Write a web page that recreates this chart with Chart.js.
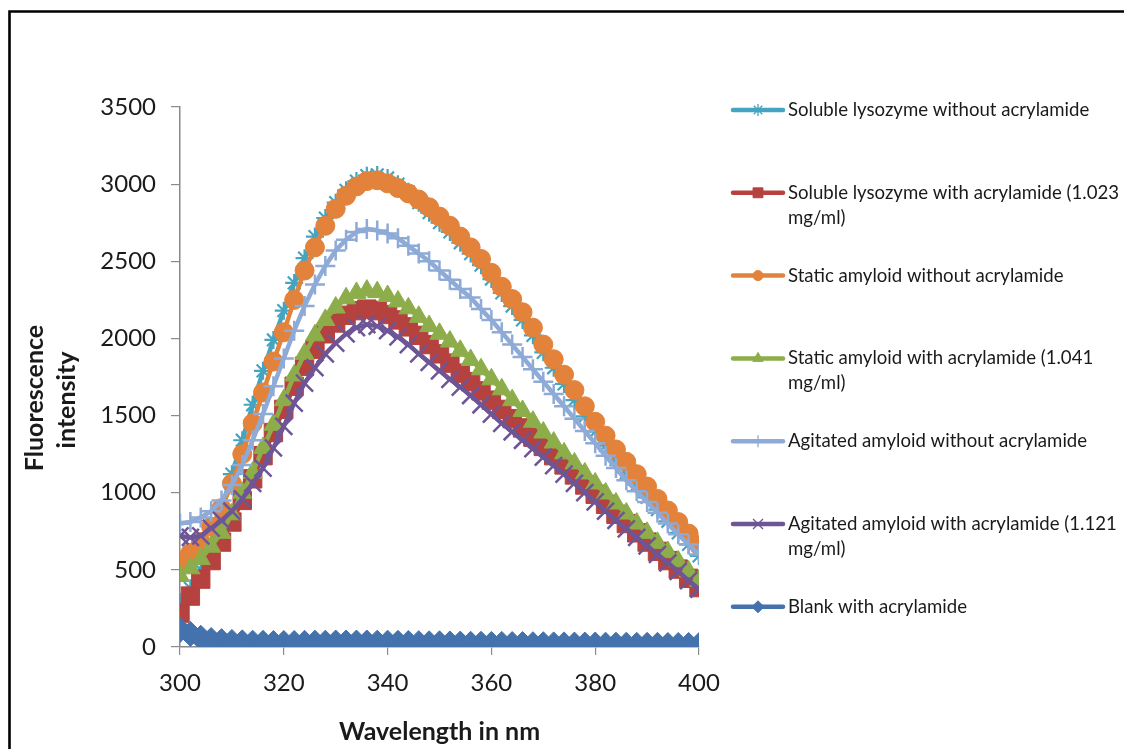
<!DOCTYPE html>
<html>
<head>
<meta charset="utf-8">
<script src="https://cdn.jsdelivr.net/npm/chart.js@4.4.1/dist/chart.umd.min.js"></script>
<style>
  html, body { margin: 0; padding: 0; background: #ffffff; }
  #wrap { width: 1124px; height: 749px; position: relative; }
</style>
</head>
<body>
<div id="wrap"><canvas id="c" width="1124" height="749"></canvas></div>
<script>
// Emission wavelength (nm), sampled every 2 nm
const wavelengths = [300,302,304,306,308,310,312,314,316,318,
                     320,322,324,326,328,330,332,334,336,338,
                     340,342,344,346,348,350,352,354,356,358,
                     360,362,364,366,368,370,372,374,376,378,
                     380,382,384,386,388,390,392,394,396,398,
                     400];

// Fluorescence intensity for each sample
const solubleNoAcrylamide = [290,380,500,680,900,1120,1340,1570,1790,1990,
                             2180,2360,2520,2660,2780,2880,2960,3020,3055,3060,
                             3040,3000,2950,2880,2815,2750,2690,2620,2550,2475,
                             2385,2295,2210,2120,2020,1910,1810,1705,1600,1495,
                             1395,1305,1215,1130,1050,970,890,815,740,665,
                             590];
const solubleAcrylamide = [220,330,440,560,680,810,950,1090,1240,1390,
                           1540,1690,1820,1930,2030,2100,2150,2180,2190,2180,
                           2155,2120,2075,2020,1960,1900,1840,1775,1720,1660,
                           1600,1540,1480,1420,1360,1300,1240,1180,1115,1050,
                           990,925,860,800,740,680,620,560,505,445,
                           385];
const staticNoAcrylamide = [560,610,680,780,900,1060,1250,1450,1650,1850,
                            2040,2250,2440,2590,2730,2840,2925,2985,3020,3025,
                            3005,2975,2940,2900,2850,2790,2730,2660,2590,2515,
                            2425,2335,2255,2170,2070,1960,1865,1765,1665,1560,
                            1460,1370,1280,1200,1120,1040,960,885,810,735,
                            660];
const staticAcrylamide = [460,510,570,650,740,860,1000,1130,1290,1440,
                          1600,1760,1900,2020,2120,2200,2260,2295,2310,2300,
                          2275,2240,2195,2140,2080,2030,1980,1920,1860,1800,
                          1735,1670,1600,1530,1460,1390,1325,1255,1190,1125,
                          1060,995,930,865,800,740,675,615,555,490,
                          430];
const agitatedNoAcrylamide = [800,810,840,880,950,1050,1180,1340,1510,1690,
                              1870,2050,2210,2350,2470,2570,2640,2690,2710,2700,
                              2680,2650,2600,2550,2500,2440,2380,2320,2265,2190,
                              2120,2040,1960,1880,1800,1720,1640,1560,1480,1400,
                              1320,1240,1160,1080,1010,940,870,800,730,665,
                              600];
const agitatedAcrylamide = [720,710,720,770,820,880,960,1060,1160,1290,
                            1430,1580,1710,1810,1900,1970,2030,2070,2090,2080,
                            2050,2010,1960,1900,1845,1790,1735,1685,1630,1570,
                            1510,1450,1395,1340,1285,1230,1175,1120,1060,1000,
                            940,880,820,765,710,655,600,545,490,430,
                            375];
const blankAcrylamide = [110,85,60,45,38,33,30,28,27,26,
                         26,26,27,28,28,29,29,29,29,28,
                         28,27,26,25,24,24,23,22,21,21,
                         20,20,19,19,18,18,17,17,16,16,
                         16,15,15,15,14,14,14,13,13,13,
                         13];

const seriesLabels = [
  'Soluble lysozyme without acrylamide',
  'Soluble lysozyme with acrylamide (1.023 mg/ml)',
  'Static amyloid without acrylamide',
  'Static amyloid with acrylamide (1.041 mg/ml)',
  'Agitated amyloid without acrylamide',
  'Agitated amyloid with acrylamide (1.121 mg/ml)',
  'Blank with acrylamide'
];
const seriesValues = [solubleNoAcrylamide, solubleAcrylamide, staticNoAcrylamide,
                      staticAcrylamide, agitatedNoAcrylamide, agitatedAcrylamide, blankAcrylamide];

const xTicks = [300, 320, 340, 360, 380, 400];
const yTicks = [0, 500, 1000, 1500, 2000, 2500, 3000, 3500];

// Line colour, marker shape and marker size per series
const styles = [
  { color: '#45A5C0', point: 'star',     radius: 9,   stroke: 2.2, legendRadius: 6 },
  { color: '#B5423F', point: 'rect',     radius: 13,  stroke: 1,   legendRadius: 7 },
  { color: '#E3823A', point: 'circle',   radius: 9.5, stroke: 1,   legendRadius: 5 },
  { color: '#8DAD4B', point: 'triangle', radius: 11,  stroke: 1,   legendRadius: 6 },
  { color: '#8EAAD6', point: 'cross',    radius: 10,  stroke: 2.5, legendRadius: 6 },
  { color: '#6E5596', point: 'crossRot', radius: 12,  stroke: 2.5, legendRadius: 7 },
  { color: '#4472AC', point: 'rectRot',  radius: 12.5, stroke: 1,  legendRadius: 6 }
];

const FONT = 'Lato, "Open Sans", sans-serif';
const TEXT = '#1a1a1a';
const AXIS = '#8a8a8a';

const datasets = seriesLabels.map((label, i) => ({
  label,
  data: wavelengths.map((w, k) => ({ x: w, y: seriesValues[i][k] })),
  borderColor: styles[i].color,
  backgroundColor: styles[i].color,
  borderWidth: 4.5,
  pointStyle: styles[i].point,
  pointRadius: styles[i].radius,
  pointBackgroundColor: styles[i].color,
  pointBorderColor: styles[i].color,
  pointBorderWidth: styles[i].stroke,
  tension: 0,
  // later series are painted over earlier ones
  order: seriesLabels.length - i
}));

// Frame, legend and the two-line vertical axis title
const decorations = {
  id: 'decorations',
  beforeDraw(chart) {
    const ctx = chart.ctx;
    ctx.save();
    ctx.fillStyle = '#ffffff';
    ctx.fillRect(0, 0, chart.width, chart.height);
    ctx.strokeStyle = '#000000';
    ctx.lineWidth = 2.6;
    ctx.beginPath();
    ctx.moveTo(9.5, 760);
    ctx.lineTo(9.5, 11.5);
    ctx.lineTo(1130, 11.5);
    ctx.stroke();
    ctx.restore();
  },
  afterDraw(chart) {
    const ctx = chart.ctx;
    ctx.save();
    // vertical axis title
    ctx.fillStyle = TEXT;
    ctx.font = 'bold 25px ' + FONT;
    ctx.textAlign = 'center';
    ctx.textBaseline = 'middle';
    [['Fluorescence', 35, 398], ['intensity', 67, 400]].forEach(([t, x, y]) => {
      ctx.save();
      ctx.translate(x, y);
      ctx.rotate(-Math.PI / 2);
      ctx.fillText(t, 0, 0);
      ctx.restore();
    });

    // legend
    const x0 = 733, x1 = 783, tx = 788, top = 110, step = 82.8, lh = 25;
    ctx.font = '18.6px ' + FONT;
    ctx.textAlign = 'left';
    chart.data.datasets.forEach((ds, i) => {
      const y = top + step * i;
      ctx.strokeStyle = ds.borderColor;
      ctx.fillStyle = ds.borderColor;
      ctx.lineWidth = 4.5;
      ctx.lineCap = 'round';
      ctx.beginPath();
      ctx.moveTo(x0, y);
      ctx.lineTo(x1, y);
      ctx.stroke();
      ctx.lineCap = 'butt';
      const filled = ['rect', 'circle', 'triangle', 'rectRot'].includes(ds.pointStyle);
      ctx.lineWidth = filled ? 1 : 1.3;
      Chart.helpers.drawPoint(ctx, {
        pointStyle: ds.pointStyle,
        rotation: 0,
        radius: styles[i].legendRadius,
        borderWidth: ctx.lineWidth
      }, (x0 + x1) / 2, y);
      ctx.fillStyle = TEXT;
      const lines = ds.label.split(/ (?=mg\/ml\))/);
      lines.forEach((t, j) => ctx.fillText(t, tx, y + j * lh));
    });
    ctx.restore();
  }
};

new Chart(document.getElementById('c'), {
  type: 'line',
  data: { datasets },
  plugins: [decorations],
  options: {
    responsive: false,
    animation: false,
    events: [],
    layout: { padding: { left: 0, top: 107, right: 425, bottom: 0 } },
    plugins: { legend: { display: false }, tooltip: { enabled: false } },
    scales: {
      x: {
        type: 'linear',
        min: xTicks[0],
        max: xTicks[xTicks.length - 1],
        afterBuildTicks(scale) { scale.ticks = xTicks.map(v => ({ value: v })); },
        afterFit(scale) { scale.height = 102; },
        ticks: { color: TEXT, font: { family: FONT, size: 24 }, padding: 14, maxRotation: 0, autoSkip: false,
                 callback: v => String(v) },
        grid: { drawOnChartArea: false, drawTicks: true, tickLength: 8, color: AXIS, lineWidth: 1.2 },
        border: { color: AXIS, width: 1.5 },
        title: {
          display: true,
          text: 'Wavelength in nm',
          color: TEXT,
          font: { family: FONT, size: 25, weight: 'bold' },
          padding: { top: 0, bottom: 2 }
        }
      },
      y: {
        min: yTicks[0],
        max: yTicks[yTicks.length - 1],
        afterBuildTicks(scale) { scale.ticks = yTicks.map(v => ({ value: v })); },
        afterFit(scale) { scale.width = 180; },
        ticks: { color: TEXT, font: { family: FONT, size: 24 }, padding: 15, autoSkip: false,
                 callback: v => String(v) },
        grid: { drawOnChartArea: false, drawTicks: true, tickLength: 9, color: AXIS, lineWidth: 1.2 },
        border: { color: AXIS, width: 1.5 }
      }
    }
  }
});
</script>
</body>
</html>
